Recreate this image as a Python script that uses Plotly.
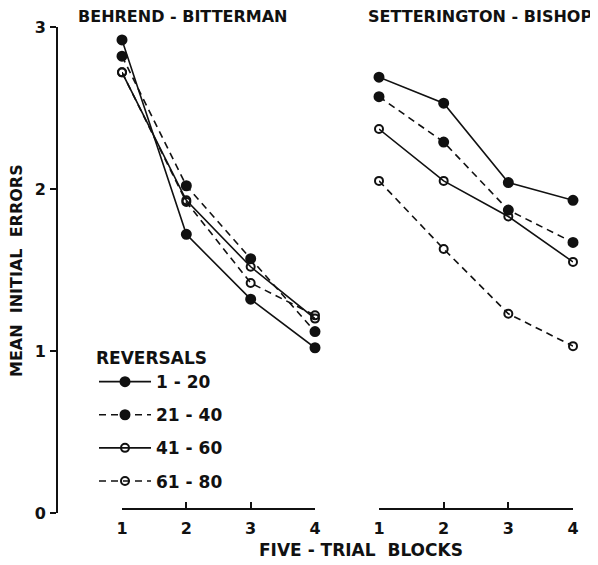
import plotly.graph_objects as go

blocks = [1, 2, 3, 4]
series_names = ["1 - 20", "21 - 40", "41 - 60", "61 - 80"]

# Behrend - Bitterman
bb_1_20 = [2.92, 1.72, 1.32, 1.02]
bb_21_40 = [2.82, 2.02, 1.57, 1.12]
bb_41_60 = [2.72, 1.93, 1.52, 1.20]
bb_61_80 = [2.72, 1.92, 1.42, 1.22]

# Setterington - Bishop
sb_1_20 = [2.69, 2.53, 2.04, 1.93]
sb_21_40 = [2.57, 2.29, 1.87, 1.67]
sb_41_60 = [2.37, 2.05, 1.83, 1.55]
sb_61_80 = [2.05, 1.63, 1.23, 1.03]

y_ticks = [0, 1, 2, 3]
x_ticks = [1, 2, 3, 4]

W, H = 598, 565
OFF = 8  # page body margin offset
FONT = "DejaVu Sans"
INK = "#111111"

styles = [
    dict(dash="solid", filled=True),
    dict(dash="7px,5px", filled=True),
    dict(dash="solid", filled=False),
    dict(dash="7px,5px", filled=False),
]

fig = go.Figure()

def add(xaxis, values, i, show):
    st = styles[i]
    fig.add_trace(go.Scatter(
        x=blocks, y=values, xaxis=xaxis, yaxis="y",
        mode="lines+markers", name=series_names[i], showlegend=show,
        legendgroup="g%d" % i,
        line=dict(color=INK, width=1.6, dash=st["dash"]),
        marker=dict(
            symbol="circle" if st["filled"] else "circle-open",
            size=9 if st["filled"] else 8,
            color=INK,
            line=dict(color=INK, width=2),
        ),
        cliponaxis=False,
    ))

for i, vals in enumerate([bb_1_20, bb_21_40, bb_41_60, bb_61_80]):
    add("x", vals, i, True)
for i, vals in enumerate([sb_1_20, sb_21_40, sb_41_60, sb_61_80]):
    add("x2", vals, i, False)

def px(x):
    return (x - OFF) / W

def py(y):
    return 1 - (y - OFF) / H

def font(size):
    return dict(family=FONT, size=size, color=INK, weight="bold")

axis_common = dict(
    range=[1, 4], tickvals=x_ticks, showline=True, linecolor=INK, linewidth=2,
    ticks="inside", ticklen=6, tickwidth=2, tickcolor=INK, showgrid=False,
    zeroline=False, anchor="free", position=py(509), automargin=False,
    ticklabelstandoff=5, tickfont=font(16),
)

fig.update_layout(
    width=W, height=H,
    margin=dict(l=0, r=0, t=0, b=0, pad=0, autoexpand=False),
    paper_bgcolor="white", plot_bgcolor="white",
    xaxis=dict(domain=[px(122), px(315)], **axis_common),
    xaxis2=dict(domain=[px(379), px(573)], **axis_common),
    yaxis=dict(
        domain=[py(513), py(27)], range=[0, 3], tickvals=y_ticks,
        showline=True, linecolor=INK, linewidth=2, ticks="outside", ticklen=6,
        tickwidth=2, tickcolor=INK, showgrid=False, zeroline=False,
        anchor="free", position=px(57), automargin=False, ticklabelstandoff=1,
        tickfont=font(16),
    ),
    legend=dict(
        x=px(94), y=py(342), xanchor="left", yanchor="top",
        bgcolor="rgba(0,0,0,0)",
        font=font(17),
        title=dict(text="REVERSALS", font=font(17)),
        itemwidth=52, tracegroupgap=8,
    ),
    showlegend=True,
)

annos = [
    dict(text="BEHREND - BITTERMAN", x=px(183), y=py(17), size=16),
    dict(text="SETTERINGTON - BISHOP", x=px(480), y=py(17), size=16),
    dict(text="FIVE - TRIAL  BLOCKS", x=px(361), y=py(550), size=17),
]
for a in annos:
    fig.add_annotation(text=a["text"], x=a["x"], y=a["y"], xref="paper", yref="paper",
                       showarrow=False, xanchor="center", yanchor="middle",
                       font=font(a["size"]))
fig.add_annotation(text="MEAN  INITIAL  ERRORS", x=px(17), y=py(271), xref="paper", yref="paper",
                   showarrow=False, textangle=-90, xanchor="center", yanchor="middle",
                   font=font(16))

fig.write_html("out.html")
